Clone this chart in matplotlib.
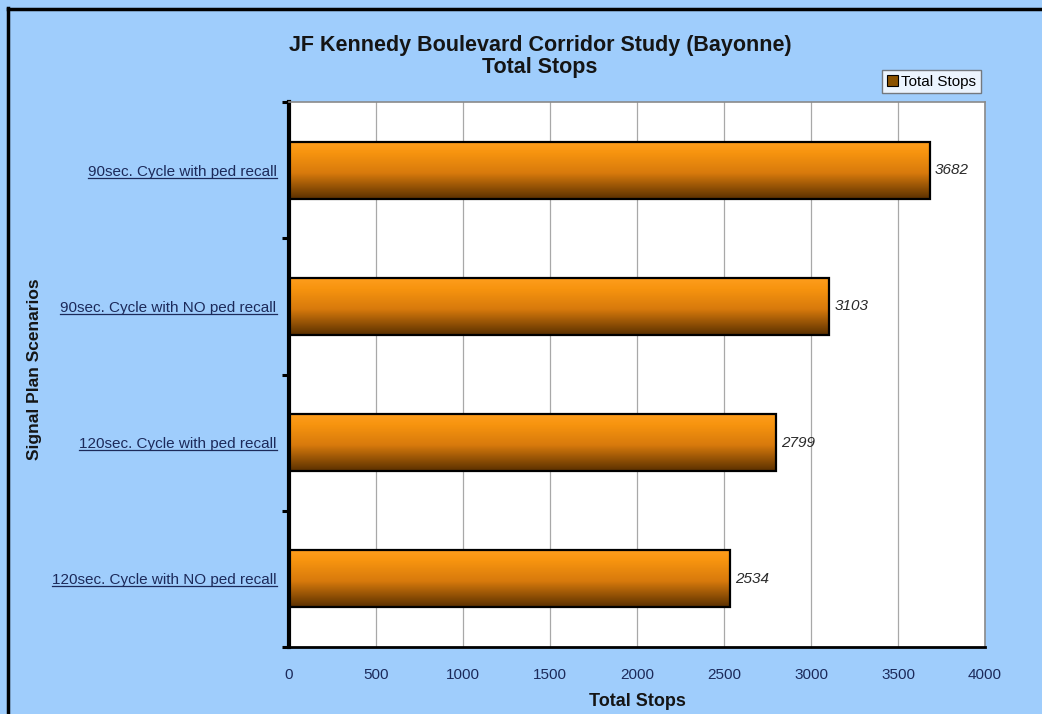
import numpy as np
import matplotlib
matplotlib.use("Agg")
import matplotlib.pyplot as plt
from matplotlib.colors import LinearSegmentedColormap
from matplotlib.lines import Line2D
from matplotlib.patches import Patch

plt.rcParams['font.family'] = ['Liberation Sans', 'DejaVu Sans']

# Données : arrêts totaux par scénario de plan de feux
scenarios = ['90sec. Cycle with ped recall',
             '90sec. Cycle with NO ped recall',
             '120sec. Cycle with ped recall',
             '120sec. Cycle with NO ped recall']
total_stops = [3682, 3103, 2799, 2534]
x_ticks = [0, 500, 1000, 1500, 2000, 2500, 3000, 3500, 4000]

bg_blue = '#9fcdfc'
navy = '#1c2a5a'
dark = '#151515'

fig = plt.figure(figsize=(10.42, 7.14), dpi=100, facecolor=bg_blue)
ax = fig.add_axes([289 / 1042, 1 - 647 / 714, 696 / 1042, 545 / 714])
ax.set_facecolor('white')

# Premier scénario en haut
pos = np.arange(len(scenarios))[::-1]
bars = ax.barh(pos, total_stops, height=0.42, color='none',
               edgecolor='black', linewidth=1.6, zorder=3)

# Dégradé orange -> brun sur chaque barre
cmap = LinearSegmentedColormap.from_list(
    'orange_brun', [(0.0, '#5a3000'), (0.45, '#d87a0c'), (0.8, '#f7940f'), (1.0, '#ff9e1e')])
grad = np.linspace(0, 1, 256).reshape(-1, 1)
for b in bars:
    x0, y0 = b.get_x(), b.get_y()
    im = ax.imshow(grad, cmap=cmap, origin='lower', aspect='auto',
                   extent=[x0, x0 + b.get_width(), y0, y0 + b.get_height()], zorder=2)
    im.set_clip_path(b)

ax.set_xlim(0, 4000)
ax.set_ylim(-0.5, len(scenarios) - 0.5)

# Étiquettes de valeurs
for p, v in zip(pos, total_stops):
    ax.text(v + 30, p, str(v), va='center', ha='left', fontsize=11,
            style='italic', color='#2a2a2a', zorder=4)

# Axes
ax.set_xticks(x_ticks)
ax.set_xticklabels([str(t) for t in x_ticks], fontsize=11, color=navy)
ax.tick_params(axis='x', length=0, pad=15)
ax.xaxis.grid(True, color='#a8a8a8', linewidth=0.9, zorder=1)
ax.set_axisbelow(True)

ax.set_yticks(pos)
ax.set_yticklabels(scenarios, fontsize=11, color=navy)
ax.tick_params(axis='y', length=0, pad=9)
ax.set_yticks(np.arange(-0.5, len(scenarios), 1.0), minor=True)
ax.tick_params(axis='y', which='minor', length=5, width=2.2, color='black')

ax.spines['left'].set_linewidth(3)
ax.spines['left'].set_color('black')
ax.spines['bottom'].set_linewidth(2)
ax.spines['bottom'].set_color('black')
for s in ['top', 'right']:
    ax.spines[s].set_color('#8a8a8a')
    ax.spines[s].set_linewidth(1.2)

ax.set_xlabel('Total Stops', fontsize=13, fontweight='bold', color=dark, labelpad=8)
fig.text(35 / 1042, 1 - 369 / 714, 'Signal Plan Scenarios', rotation=90,
         ha='center', va='center', fontsize=12.5, fontweight='bold', color=dark)

fig.text(540 / 1042, 1 - 46 / 714, 'JF Kennedy Boulevard Corridor Study (Bayonne)',
         ha='center', va='center', fontsize=15.5, fontweight='bold', color=dark)
fig.text(540 / 1042, 1 - 68 / 714, 'Total Stops',
         ha='center', va='center', fontsize=15.5, fontweight='bold', color=dark)

# Légende
handle = Patch(facecolor='#8a5200', edgecolor='black', linewidth=0.8)
leg = fig.legend([handle], ['Total Stops'], loc='upper right',
                 bbox_to_anchor=(981 / 1042, 1 - 70 / 714), fontsize=11,
                 frameon=True, fancybox=False, handlelength=0.7, handleheight=0.7,
                 handletextpad=0.25, borderpad=0.3, borderaxespad=0)
leg.get_frame().set_edgecolor('#606060')
leg.get_frame().set_linewidth(1.0)

# Cadre noir autour du graphique
fig.add_artist(Line2D([8 / 1042, 8 / 1042], [0, 1 - 8 / 714], color='black',
                      linewidth=2.5, transform=fig.transFigure))
fig.add_artist(Line2D([8 / 1042, 1], [1 - 9 / 714, 1 - 9 / 714], color='black',
                      linewidth=2.5, transform=fig.transFigure))

# Soulignement des libellés de scénarios
fig.canvas.draw()
renderer = fig.canvas.get_renderer()
inv = fig.transFigure.inverted()
for lab in ax.get_yticklabels():
    bb = lab.get_window_extent(renderer)
    (x0, y0), (x1, _) = inv.transform([(bb.x0, bb.y0 + 1), (bb.x1, bb.y0 + 1)])
    fig.add_artist(Line2D([x0, x1], [y0, y0], color=navy, linewidth=0.9,
                          transform=fig.transFigure))

fig.savefig('out.png', dpi=100, facecolor=bg_blue)
